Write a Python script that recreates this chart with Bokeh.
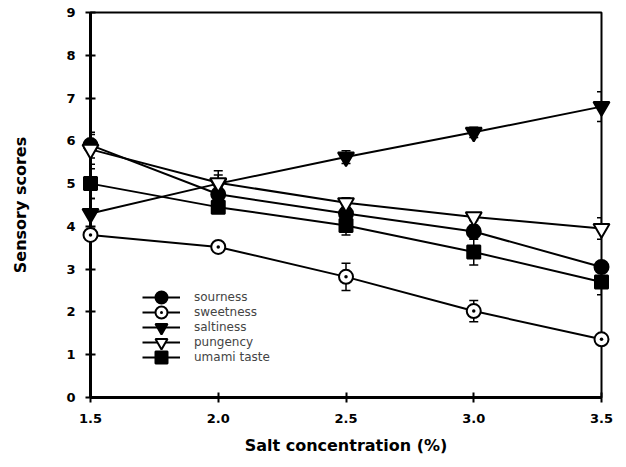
from bokeh.plotting import figure
from bokeh.models import Range1d, FixedTicker, NumeralTickFormatter, Whisker, ColumnDataSource, TeeHead, Legend, LegendItem
from bokeh.embed import file_html
from bokeh.resources import INLINE

salt = [1.5, 2.0, 2.5, 3.0, 3.5]
sourness = [5.9, 4.75, 4.3, 3.88, 3.05]
sourness_err = [0.3, 0.15, 0.15, 0.15, 0.12]
sweetness = [3.8, 3.52, 2.82, 2.02, 1.36]
sweetness_err = [0.1, 0.05, 0.32, 0.25, 0.1]
saltiness = [4.3, 5.0, 5.62, 6.2, 6.8]
saltiness_err = [0.35, 0.2, 0.15, 0.12, 0.35]
pungency = [5.8, 5.02, 4.55, 4.22, 3.95]
pungency_err = [0.35, 0.28, 0.12, 0.08, 0.25]
umami = [5.0, 4.45, 4.02, 3.4, 2.7]
umami_err = [0.35, 0.1, 0.22, 0.3, 0.3]

x_ticks = [1.5, 2.0, 2.5, 3.0, 3.5]
y_ticks = list(range(0, 10))

FONT = "DejaVu Sans"

p = figure(width=620, height=460, output_backend="svg", toolbar_location=None,
           x_range=Range1d(1.5, 3.5), y_range=Range1d(0, 9),
           min_border_left=90, min_border_right=19, min_border_top=12, min_border_bottom=63)
p.grid.visible = False
p.outline_line_color = "black"
p.outline_line_width = 2
p.background_fill_color = "white"
p.border_fill_color = "white"

for ax in (p.xaxis[0], p.yaxis[0]):
    ax.axis_line_width = 3
    ax.axis_line_color = "black"
    ax.major_tick_line_width = 2
    ax.major_tick_in = 5
    ax.major_tick_out = 5
    ax.minor_tick_line_color = None
    ax.major_label_text_font = FONT
    ax.major_label_text_font_style = "bold"
    ax.major_label_text_font_size = "13px"
    ax.major_label_text_color = "black"
    ax.axis_label_text_font = FONT
    ax.axis_label_text_font_style = "bold"
    ax.axis_label_text_font_size = "16px"
    ax.axis_label_text_color = "black"

p.xaxis.ticker = FixedTicker(ticks=x_ticks)
p.xaxis.formatter = NumeralTickFormatter(format="0.0")
p.yaxis.ticker = FixedTicker(ticks=y_ticks)
p.xaxis.axis_label = "Salt concentration (%)"
p.yaxis.axis_label = "Sensory scores"
p.xaxis.major_label_standoff = 11
p.xaxis.axis_label_standoff = 10
p.yaxis.major_label_standoff = 10
p.yaxis.axis_label_standoff = 33

series = [
    ("sourness", sourness, sourness_err, "circle", "black", 14),
    ("sweetness", sweetness, sweetness_err, "circle_dot", "white", 14),
    ("saltiness", saltiness, saltiness_err, "inverted_triangle", "black", 16),
    ("pungency", pungency, pungency_err, "inverted_triangle", "white", 16),
    ("umami taste", umami, umami_err, "square", "black", 13),
]

n = len(series)
for i, (name, ys, err, marker, fill, size) in enumerate(series):
    src = ColumnDataSource(dict(x=salt, y=ys,
                                lo=[a - b for a, b in zip(ys, err)],
                                hi=[a + b for a, b in zip(ys, err)]))
    w = Whisker(base="x", lower="lo", upper="hi", source=src, line_color="black", line_width=1.5,
                upper_head=TeeHead(size=9, line_width=1.5, line_color="black"),
                lower_head=TeeHead(size=9, line_width=1.5, line_color="black"))
    p.add_layout(w)
    l = p.line("x", "y", source=src, line_color="black", line_width=2, level="overlay")
    m = p.scatter("x", "y", source=src, marker=marker, size=size, fill_color=fill,
                  line_color="black", line_width=2, level="overlay")
    # one legend per entry so that entries can sit 15px apart with full-size symbols
    lg = Legend(items=[LegendItem(label=name, renderers=[l, m])],
                location=(52, 25 + (n - 1 - i) * 15), border_line_color=None,
                background_fill_alpha=0, padding=0, spacing=0, glyph_height=30,
                glyph_width=38, label_standoff=14, label_text_font=FONT,
                label_text_font_size="12px", label_height=15, margin=0)
    p.add_layout(lg, "center")

open("out.html", "w").write(file_html(p, INLINE))
